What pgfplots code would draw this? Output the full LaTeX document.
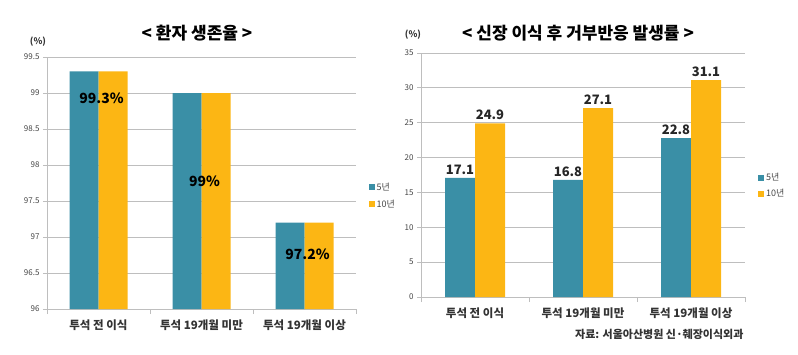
\documentclass[border=0pt]{standalone}
\usepackage{fontspec}
\setmainfont{Noto Sans CJK KR}
\usepackage{pgfplots}
\pgfplotsset{compat=1.18}
\definecolor{teal5}{RGB}{58,143,166}
\definecolor{orange10}{RGB}{252,182,20}
\definecolor{gridgray}{RGB}{190,190,190}
\definecolor{ticktext}{RGB}{70,70,70}
\pgfplotsset{
  mybase/.style={
    scale only axis,
    anchor=south west,
    ybar=0pt,
    xmin=-0.5, xmax=2.5,
    xtick={0,1,2},
    minor xtick={-0.5,0.5,1.5,2.5},
    axis x line*=bottom,
    axis y line*=left,
    axis line style={gridgray, line width=0.8pt},
    ymajorgrids,
    grid style={gridgray, line width=0.8pt},
    major x tick style={draw=none},
    minor x tick style={gridgray, line width=0.8pt},
    major y tick style={gridgray, line width=0.8pt},
    tick align=outside,
    major tick length=4pt,
    minor tick length=5pt,
    /pgf/number format/assume math mode=true,
    yticklabel style={font=\fontsize{8}{9}\selectfont, text=ticktext},
    xticklabel style={font=\bfseries\fontsize{11.5}{13}\selectfont, text=black!80, yshift=-3pt},
    xticklabels={투석 전 이식, 투석 19개월 미만, 투석 19개월 이상},
    legend style={draw=none, fill=none, font=\fontsize{9}{10}\selectfont, text=ticktext, row sep=4pt, inner sep=0pt},
    legend cell align=left,
    legend image code/.code={\fill[#1] (0pt,-3pt) rectangle (6pt,3pt);},
  }
}
\begin{document}
\begin{tikzpicture}
\useasboundingbox (0,0) rectangle (798pt,354pt);
% left chart
\begin{axis}[mybase,
  at={(47pt,45pt)}, width=309pt, height=252pt,
  ymin=96, ymax=99.5, ytick={96,96.5,...,99.5},
  yticklabels={96,96.5,97,97.5,98,98.5,99,99.5},
  bar width=29pt,
  legend style={at={(1.04,0.45)}, anchor=west},
]
\addplot[fill=teal5, draw=none] coordinates {(0,99.3) (1,99.0) (2,97.2)};
\addplot[fill=orange10, draw=none] coordinates {(0,99.3) (1,99.0) (2,97.2)};
\legend{5년, 10년}
\node[font=\bfseries\fontsize{14}{16}\selectfont] at (axis cs:0.03,98.93) {99.3\%};
\node[font=\bfseries\fontsize{14}{16}\selectfont] at (axis cs:1.03,97.78) {99\%};
\node[font=\bfseries\fontsize{14}{16}\selectfont] at (axis cs:2.03,96.76) {97.2\%};
\end{axis}
% right chart
\begin{axis}[mybase,
  at={(421pt,57pt)}, width=324pt, height=244pt,
  ymin=0, ymax=35, ytick={0,5,...,35},
  bar width=30pt,
  nodes near coords,
  nodes near coords style={font=\bfseries\fontsize{13}{15}\selectfont, text=black!85, /pgf/number format/fixed, /pgf/number format/precision=1, /pgf/number format/fixed zerofill},
  legend style={at={(1.04,0.455)}, anchor=west, row sep=3pt},
]
\addplot[fill=teal5, draw=none] coordinates {(0,17.1) (1,16.8) (2,22.8)};
\addplot[fill=orange10, draw=none] coordinates {(0,24.9) (1,27.1) (2,31.1)};
\legend{5년, 10년}
\end{axis}
% titles and labels
\node[font=\bfseries\fontsize{17}{19}\selectfont] at (197pt,321pt) {< 환자 생존율 >};
\node[font=\bfseries\fontsize{17}{19}\selectfont] at (578pt,321pt) {< 신장 이식 후 거부반응 발생률 >};
\node[font=\bfseries\fontsize{9}{10}\selectfont, text=black!80] at (38pt,312pt) {(\%)};
\node[font=\bfseries\fontsize{9}{10}\selectfont, text=black!80] at (413pt,319pt) {(\%)};
\node[font=\bfseries\fontsize{11}{13}\selectfont, text=black!80, anchor=east] at (747pt,20pt) {자료: 서울아산병원 신·췌장이식외과};
\end{tikzpicture}
\end{document}
